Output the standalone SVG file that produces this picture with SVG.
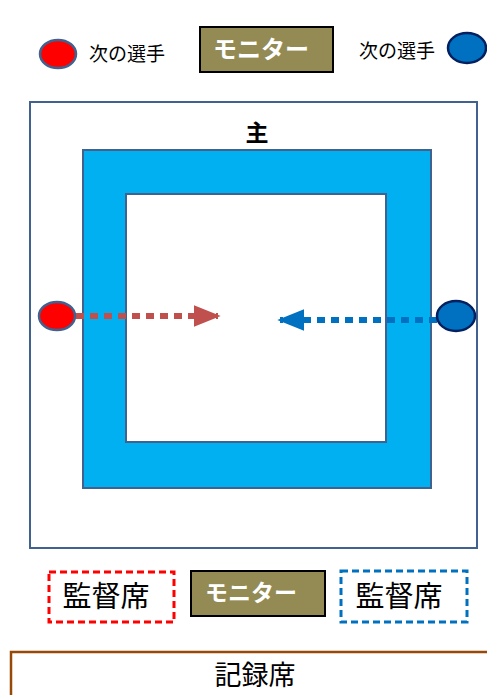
<svg xmlns="http://www.w3.org/2000/svg" width="487" height="695" viewBox="0 0 487 695">
<defs>
<style>
.jp{font-family:"Noto Sans CJK JP","Noto Sans",sans-serif;fill:#000}
.mon rect{fill:#948A54;stroke:#000;stroke-width:2}
.mon text{font-family:"Noto Sans CJK JP",sans-serif;font-weight:bold;fill:#fff;text-anchor:middle}
</style>
<marker id="ar" viewBox="0 0 10 10" refX="9" refY="5" markerWidth="4.5" markerHeight="3.6" orient="auto" markerUnits="strokeWidth" preserveAspectRatio="none"><path d="M0,0 L10,5 L0,10 z" fill="#C0504D"/></marker>
<marker id="ab" viewBox="0 0 10 10" refX="9" refY="5" markerWidth="4.5" markerHeight="3.6" orient="auto" markerUnits="strokeWidth" preserveAspectRatio="none"><path d="M0,0 L10,5 L0,10 z" fill="#0070C0"/></marker>
</defs>
<rect width="487" height="695" fill="#fff"/>
<g id="legend-red"><ellipse cx="58" cy="54" rx="18" ry="14" fill="#FF0000" stroke="#41628F" stroke-width="2.5"/><text class="jp" x="89" y="61" font-size="19">次の選手</text></g>
<g id="monitor-top" class="mon"><rect x="200" y="27" width="133" height="45"/><text x="261" y="58" font-size="24">モニター</text></g>
<g id="legend-blue"><text class="jp" x="359" y="58" font-size="19">次の選手</text><ellipse cx="467" cy="48" rx="19" ry="15" fill="#0070C0" stroke="#002060" stroke-width="2.5"/></g>
<g id="outer"><rect x="30" y="102" width="447" height="446" fill="#fff" stroke="#41628F" stroke-width="2"/><text class="jp" x="257" y="141" font-size="23" font-weight="bold" text-anchor="middle">主</text></g>
<g id="court"><rect x="83" y="150" width="348" height="338" fill="#00B0F0" stroke="#41628F" stroke-width="2"/><rect x="126" y="194" width="260" height="248" fill="#fff" stroke="#41628F" stroke-width="2"/></g>
<g id="connectors">
<line x1="76" y1="316" x2="218" y2="316" stroke="#C0504D" stroke-width="6" stroke-dasharray="8,6" marker-end="url(#ar)"/>
<line x1="437" y1="320" x2="280" y2="320" stroke="#0070C0" stroke-width="6" stroke-dasharray="8,6" marker-end="url(#ab)"/>
</g>
<g id="player-red"><ellipse cx="57" cy="316" rx="18" ry="14" fill="#FF0000" stroke="#41628F" stroke-width="2.5"/></g>
<g id="player-blue"><ellipse cx="456" cy="316" rx="19" ry="15" fill="#0070C0" stroke="#002060" stroke-width="2.5"/></g>
<g id="bench-red"><rect x="49" y="572" width="125" height="50" fill="#fff" stroke="#FF0000" stroke-width="3" stroke-dasharray="7,4"/><text class="jp" x="106" y="607" font-size="29" text-anchor="middle">監督席</text></g>
<g id="monitor-bottom" class="mon"><rect x="191" y="571" width="134" height="45"/><text x="251" y="601" font-size="23">モニター</text></g>
<g id="bench-blue"><rect x="341" y="571" width="126" height="51" fill="#fff" stroke="#0070C0" stroke-width="3" stroke-dasharray="7,4"/><text class="jp" x="399" y="607" font-size="29" text-anchor="middle">監督席</text></g>
<g id="record"><path d="M11,698 V652 H490" fill="none" stroke="#984807" stroke-width="2.5"/><text class="jp" x="255" y="685" font-size="27" text-anchor="middle">記録席</text></g>
</svg>
